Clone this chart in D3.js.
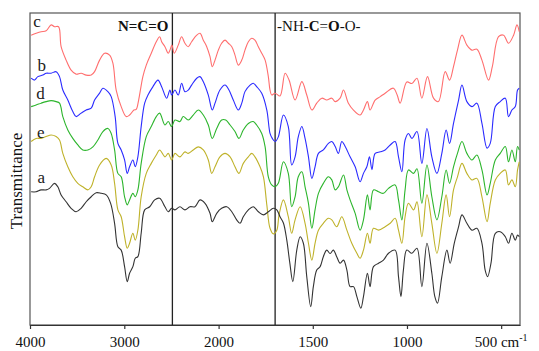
<!DOCTYPE html>
<html>
<head>
<meta charset="utf-8">
<script src="https://cdn.jsdelivr.net/npm/d3@7"></script>
<style>
  body { margin: 0; background: #fff; }
  text { font-family: "Liberation Serif", "Times New Roman", serif; }
</style>
</head>
<body>
<svg id="chart" width="539" height="351"></svg>
<script>
// wavenumber (cm-1), transmittance (a.u., 0-100 on the plot)
const seriesC = [
  [3988,92.9],[3935,93.5],[3882,94.0],[3829,94.3],[3776,96.2],[3740,95.6],[3697,95.6],[3670,89.2],[3617,84.9],[3564,81.7],
  [3511,80.4],[3458,80.7],[3404,80.1],[3351,80.1],[3315,81.2],[3262,84.9],[3209,87.1],[3156,86.5],[3121,83.9],[3086,75.3],
  [3033,70.0],[2980,66.8],[2944,67.3],[2898,68.9],[2874,69.1],[2848,72.1],[2803,79.6],[2767,83.3],[2714,87.1],[2661,90.8],
  [2625,92.4],[2604,90.8],[2569,89.2],[2534,87.1],[2516,88.1],[2495,89.7],[2470,87.1],[2428,89.7],[2392,92.4],[2357,90.3],
  [2322,89.2],[2286,90.8],[2232,92.9],[2197,93.5],[2162,91.3],[2126,89.2],[2091,86.0],[2067,82.8],[2038,84.9],[2003,88.1],
  [1984,90.3],[1966,91.3],[1948,90.3],[1930,89.2],[1913,86.5],[1895,83.3],[1877,84.9],[1860,88.1],[1842,90.8],[1824,91.9],
  [1807,91.3],[1789,89.2],[1771,87.1],[1753,84.9],[1736,79.6],[1727,75.3],[1718,73.7],[1700,74.3],[1674,73.4],[1647,80.7],
  [1626,78.5],[1594,72.1],[1558,78.0],[1532,73.7],[1505,68.9],[1479,71.1],[1452,72.7],[1426,72.1],[1399,72.7],[1381,71.6],
  [1355,72.7],[1337,75.3],[1311,71.1],[1284,68.9],[1249,67.3],[1231,68.9],[1210,71.6],[1196,68.9],[1169,72.1],[1142,73.2],
  [1116,74.3],[1072,75.9],[1052,73.7],[1036,71.1],[1001,77.9],[974,77.4],[947,79.1],[921,72.7],[891,79.6],[859,72.7],
  [833,71.6],[797,81.2],[774,78.5],[753,82.8],[732,88.1],[708,92.9],[682,89.7],[655,88.1],[629,88.4],[602,84.9],
  [567,78.5],[547,82.8],[514,92.4],[487,92.9],[461,90.3],[434,92.9],[416,96.2],[404,94.0]
];
const seriesB = [
  [3988,79.1],[3952,78.5],[3917,79.6],[3864,80.1],[3829,80.7],[3776,80.7],[3723,81.2],[3687,79.6],[3652,75.3],[3599,72.1],
  [3546,68.4],[3511,66.8],[3458,67.9],[3404,68.9],[3351,69.5],[3315,72.1],[3262,74.3],[3227,75.9],[3174,74.8],[3139,73.2],
  [3097,66.8],[3068,58.2],[3033,56.1],[2997,52.9],[2969,48.6],[2944,50.7],[2909,52.9],[2884,50.7],[2856,53.9],[2821,63.6],
  [2784,71.1],[2749,73.7],[2696,76.4],[2643,78.5],[2604,76.4],[2551,72.7],[2516,75.3],[2498,73.7],[2463,75.3],[2428,73.7],
  [2392,77.5],[2357,74.8],[2322,75.3],[2286,76.9],[2232,79.1],[2197,79.6],[2162,78.0],[2109,73.7],[2067,68.9],[2038,71.1],
  [1993,75.3],[1966,76.9],[1945,75.3],[1922,72.1],[1895,68.9],[1877,71.1],[1860,74.8],[1833,76.9],[1816,77.5],[1798,76.4],
  [1771,74.3],[1744,68.9],[1727,61.4],[1715,59.8],[1700,58.8],[1683,60.3],[1656,67.3],[1630,63.6],[1612,51.3],[1594,53.9],
  [1577,60.3],[1558,63.6],[1541,59.8],[1523,53.9],[1505,47.0],[1488,50.7],[1470,55.0],[1444,56.1],[1417,58.2],[1399,58.8],
  [1381,57.2],[1364,55.0],[1346,58.8],[1328,57.2],[1302,53.9],[1275,50.7],[1249,45.9],[1231,48.6],[1213,50.7],[1199,53.9],
  [1186,49.8],[1169,55.0],[1142,55.5],[1116,56.1],[1089,57.7],[1063,58.8],[1045,53.9],[1027,49.1],[1010,59.3],[992,61.4],
  [974,59.8],[947,62.0],[921,51.8],[894,63.0],[868,53.9],[841,48.6],[815,55.0],[792,62.5],[774,58.2],[753,64.6],
  [726,72.1],[708,76.9],[682,71.6],[655,70.0],[629,71.1],[602,64.6],[575,56.7],[558,58.2],[531,70.0],[505,71.6],
  [478,72.7],[461,66.8],[443,68.9],[425,70.0],[413,75.3],[404,75.9]
];
const seriesD = [
  [3988,70.0],[3935,70.5],[3882,71.1],[3829,71.6],[3776,71.9],[3723,71.6],[3687,71.1],[3652,66.8],[3599,62.5],[3546,59.8],
  [3493,57.7],[3440,56.1],[3386,56.1],[3333,57.1],[3280,59.3],[3227,62.0],[3174,63.0],[3139,61.4],[3103,56.1],[3068,48.6],
  [3033,47.5],[2997,41.1],[2969,38.5],[2944,40.1],[2909,42.2],[2884,41.1],[2856,43.3],[2821,51.8],[2767,60.4],[2714,63.6],
  [2661,66.8],[2625,67.9],[2569,64.1],[2534,65.2],[2498,63.6],[2463,65.7],[2410,65.2],[2375,66.8],[2322,65.7],[2269,67.3],
  [2215,68.9],[2162,67.3],[2109,64.1],[2067,59.8],[2020,63.0],[1984,65.7],[1962,65.7],[1939,64.1],[1913,62.0],[1892,59.8],
  [1869,62.5],[1842,64.6],[1816,65.2],[1798,64.1],[1771,61.4],[1753,57.1],[1736,47.5],[1718,44.9],[1700,44.3],[1683,45.4],
  [1656,52.3],[1630,48.6],[1612,37.9],[1594,41.1],[1577,47.5],[1558,49.1],[1541,44.3],[1523,39.0],[1505,31.0],[1488,36.9],
  [1470,42.2],[1444,45.4],[1417,47.5],[1399,46.5],[1381,43.3],[1364,44.3],[1337,48.1],[1319,43.3],[1302,40.1],[1275,35.8],
  [1249,30.4],[1231,33.7],[1210,41.7],[1196,36.9],[1178,43.3],[1151,42.7],[1125,42.2],[1098,43.8],[1063,44.9],[1045,40.1],
  [1027,33.7],[1010,43.3],[992,49.7],[965,48.6],[947,50.1],[921,39.0],[894,51.3],[868,41.1],[841,33.7],[815,41.1],
  [792,49.7],[774,45.4],[753,50.7],[732,55.0],[708,58.8],[682,55.0],[655,52.9],[629,54.5],[602,49.7],[575,41.7],
  [558,45.4],[531,52.9],[505,55.0],[478,57.2],[461,52.3],[443,56.1],[425,52.3],[413,57.2],[404,56.1]
];
const seriesE = [
  [3988,58.8],[3935,59.8],[3882,59.8],[3829,60.4],[3776,60.9],[3723,60.4],[3687,59.3],[3652,55.0],[3599,50.7],[3546,47.5],
  [3493,45.4],[3440,44.3],[3386,43.3],[3351,44.3],[3315,47.5],[3262,51.3],[3192,53.4],[3139,51.3],[3103,45.4],[3068,36.9],
  [3033,34.7],[2997,28.3],[2969,24.6],[2944,26.2],[2909,29.4],[2884,27.2],[2856,30.4],[2821,41.1],[2767,48.6],[2714,51.8],
  [2661,54.5],[2625,56.1],[2569,53.9],[2534,55.0],[2498,52.9],[2463,55.0],[2410,53.9],[2357,55.5],[2322,55.0],[2269,56.1],
  [2215,57.1],[2162,56.1],[2109,52.9],[2073,48.6],[2038,50.7],[1993,53.9],[1966,55.0],[1939,53.9],[1913,50.7],[1892,48.6],
  [1869,51.8],[1842,53.9],[1824,55.0],[1807,53.9],[1780,50.7],[1762,47.5],[1744,38.5],[1727,31.0],[1709,29.2],[1691,30.4],
  [1679,35.3],[1656,40.1],[1630,34.7],[1612,29.4],[1594,33.7],[1567,37.9],[1541,32.6],[1523,26.2],[1505,20.8],[1488,26.2],
  [1470,30.4],[1444,32.6],[1417,34.2],[1399,33.7],[1373,31.5],[1346,34.7],[1319,30.4],[1293,26.2],[1266,23.0],[1249,21.4],
  [1231,24.0],[1210,29.4],[1196,26.2],[1178,31.0],[1151,30.4],[1116,31.5],[1089,32.6],[1063,34.2],[1045,30.4],[1027,26.2],
  [1010,34.7],[992,39.0],[965,36.9],[947,39.5],[921,28.3],[894,41.7],[868,32.6],[841,23.0],[815,32.6],[792,41.7],
  [774,34.7],[753,43.3],[732,47.5],[708,51.8],[682,48.6],[655,46.5],[629,47.0],[602,41.1],[575,33.1],[558,39.0],
  [531,46.5],[505,48.6],[478,49.7],[461,44.9],[443,46.5],[425,44.3],[413,49.7],[404,52.3]
];
const seriesA = [
  [3988,42.7],[3935,42.7],[3882,43.3],[3829,43.3],[3793,43.8],[3740,45.4],[3705,44.3],[3670,41.7],[3617,39.5],[3564,37.4],
  [3511,36.3],[3458,37.4],[3404,39.5],[3351,41.1],[3298,42.4],[3245,42.2],[3192,41.7],[3145,39.0],[3103,32.6],[3068,25.1],
  [3033,24.0],[2997,18.7],[2969,13.9],[2944,16.6],[2909,18.7],[2884,21.4],[2856,21.9],[2821,29.4],[2784,36.9],[2731,37.9],
  [2678,40.1],[2625,40.6],[2569,37.9],[2534,36.3],[2498,37.4],[2463,36.9],[2410,37.9],[2357,36.9],[2304,37.9],[2251,37.9],
  [2197,40.1],[2144,39.0],[2091,35.8],[2067,33.1],[2020,35.8],[1984,37.4],[1957,37.9],[1930,36.3],[1904,33.7],[1886,32.6],
  [1869,34.7],[1842,36.9],[1816,37.9],[1789,36.3],[1762,35.3],[1736,36.3],[1709,37.4],[1691,36.9],[1674,34.7],[1656,32.7],
  [1638,27.2],[1622,19.9],[1606,13.9],[1585,24.0],[1567,28.3],[1550,26.2],[1532,15.5],[1511,5.9],[1497,12.3],[1479,17.6],
  [1461,18.7],[1444,21.9],[1426,24.0],[1408,22.9],[1391,24.0],[1373,21.9],[1355,19.8],[1337,20.8],[1319,17.6],[1302,12.3],
  [1284,12.3],[1266,9.1],[1245,5.4],[1231,9.1],[1210,16.6],[1196,12.3],[1178,18.7],[1151,19.8],[1125,20.8],[1098,23.0],
  [1063,24.0],[1045,15.5],[1032,9.1],[1019,17.6],[1001,24.0],[974,23.0],[947,24.6],[921,12.3],[894,26.2],[868,16.6],
  [852,9.1],[838,7.0],[815,15.5],[788,24.0],[771,19.8],[749,26.2],[726,31.5],[708,35.3],[682,32.6],[655,30.4],
  [629,31.0],[602,26.2],[585,17.6],[572,15.5],[554,19.8],[531,29.4],[505,29.9],[478,28.3],[461,26.2],[443,29.4],
  [425,27.2],[413,28.8],[404,28.3]
];

const seriesNames = ['c', 'b', 'd', 'e', 'a'];
const seriesColors = ['#ff6e6e', '#2b2bff', '#2cb52c', '#bfb22a', '#333333'];
const seriesData = [seriesC, seriesB, seriesD, seriesE, seriesA];
// label positions as (wavenumber, transmittance)
const labelPos = [[3965, 95.5], [3920, 81.5], [3935, 72.5], [3925, 60], [3920, 45.5]];

const tickValues = [4000, 3000, 2000, 1500, 1000, 500];
const markerLines = [2490, 1700];

const margin = { top: 13, right: 19, bottom: 26, left: 30 };
const W = 539, H = 351;
const width = W - margin.left - margin.right;
const height = H - margin.top - margin.bottom;
const serif = '"Liberation Serif", "Times New Roman", serif';

const svg = d3.select('#chart');
const g = svg.append('g').attr('transform', `translate(${margin.left},${margin.top})`);

// the axis changes scale at 2000 cm-1
const x = d3.scaleLinear().domain([4000, 2000, 400]).range([0, 188.6, width]);
const y = d3.scaleLinear().domain([0, 100]).range([height, 0]);

// frame
g.append('rect')
  .attr('x', 0).attr('y', 0)
  .attr('width', width).attr('height', height)
  .attr('fill', 'none')
  .attr('stroke', '#555')
  .attr('stroke-width', 1.2);

// bottom axis
const xAxis = g.append('g')
  .attr('transform', `translate(0,${height})`)
  .call(d3.axisBottom(x).tickValues(tickValues).tickSize(4).tickSizeOuter(0).tickFormat(d => d));
xAxis.attr('font-family', null);
xAxis.select('.domain').attr('stroke', '#333').attr('stroke-width', 1.2);
xAxis.selectAll('.tick line').attr('stroke', '#333').attr('stroke-width', 1.2);
xAxis.selectAll('.tick text')
  .style('font-family', serif)
  .attr('font-size', 15)
  .attr('fill', '#111')
  .attr('y', 11);
xAxis.selectAll('.tick text').filter(d => d === 500)
  .text(null)
  .attr('text-anchor', 'start')
  .attr('x', -27)
  .call(t => {
    t.append('tspan').text('500 cm');
    t.append('tspan').attr('font-size', 10).attr('dy', '-0.6em').text('-1');
  });

// marker lines
g.selectAll('.marker')
  .data(markerLines)
  .join('line')
  .attr('class', 'marker')
  .attr('x1', d => x(d)).attr('x2', d => x(d))
  .attr('y1', 0).attr('y2', height)
  .attr('stroke', '#222')
  .attr('stroke-width', 1.3);

// spectra
const line = d3.line()
  .x(d => x(d[0]))
  .y(d => y(d[1]))
  .curve(d3.curveCatmullRom.alpha(0.5));

g.selectAll('.spectrum')
  .data(seriesData)
  .join('path')
  .attr('class', 'spectrum')
  .attr('d', d => line(d))
  .attr('fill', 'none')
  .attr('stroke', (d, i) => seriesColors[i])
  .attr('stroke-width', 1.1);

// curve letters
g.selectAll('.curve-label')
  .data(seriesNames)
  .join('text')
  .attr('class', 'curve-label')
  .attr('x', (d, i) => x(labelPos[i][0]))
  .attr('y', (d, i) => y(labelPos[i][1]))
  .attr('font-size', 17)
  .attr('fill', '#222')
  .text(d => d);

// annotations
g.append('text')
  .attr('x', x(markerLines[0]) - 4)
  .attr('y', 18)
  .attr('text-anchor', 'end')
  .attr('font-size', 15)
  .attr('font-weight', 'bold')
  .attr('fill', '#111')
  .text('N=C=O');

const ure = g.append('text')
  .attr('x', x(markerLines[1]) + 2)
  .attr('y', 18)
  .attr('font-size', 15)
  .attr('fill', '#111');
[['-NH-', 'normal'], ['C', 'bold'], ['=', 'normal'], ['O', 'bold'], ['-O-', 'normal']].forEach(p => {
  ure.append('tspan').attr('font-weight', p[1]).text(p[0]);
});

// y label
svg.append('text')
  .attr('transform', `translate(22,${margin.top + height / 2 + 12}) rotate(-90)`)
  .attr('text-anchor', 'middle')
  .attr('font-size', 17)
  .attr('fill', '#111')
  .text('Transmittance');
</script>
</body>
</html>
